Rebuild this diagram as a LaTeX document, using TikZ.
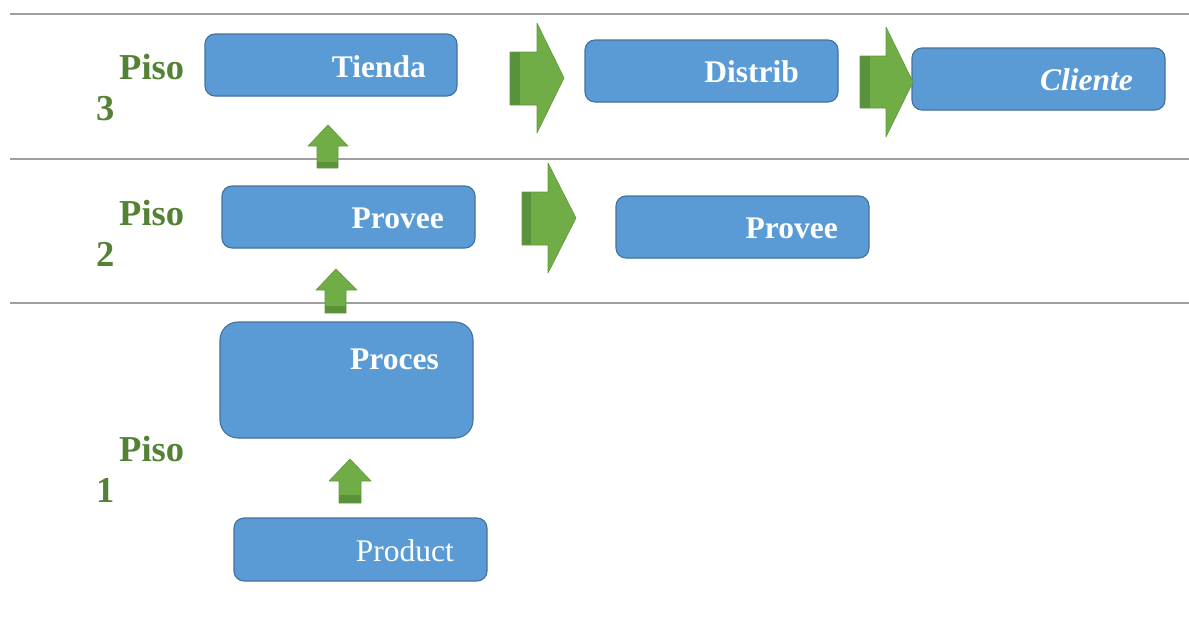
\documentclass[tikz,border=0pt]{standalone}
\usepackage{fontspec}
\setmainfont{Liberation Serif}
\definecolor{boxblue}{HTML}{5B9BD5}
\definecolor{boxedge}{HTML}{41719C}
\definecolor{arrowgreen}{HTML}{70AD47}
\definecolor{arrowedge}{HTML}{62983C}
\definecolor{arrowband}{HTML}{5A913B}
\definecolor{floorgreen}{HTML}{548235}
\definecolor{rulegray}{HTML}{A0A0A0}

% right block arrow: tail x, head base x, tip x, shaft top, shaft bottom,
% head top, head bottom, tip y, band right x
\newcommand\rightblock[9]{%
  \fill[arrowgreen] (#1,#4) -- (#2,#4) -- (#2,#6) -- (#3,#8) -- (#2,#7) -- (#2,#5) -- (#1,#5) -- cycle;
  \fill[arrowband] (#1,#4) rectangle (#9,#5);
  \draw[arrowedge, line width=0.6pt, line join=round] (#1,#4) -- (#2,#4) -- (#2,#6) -- (#3,#8) -- (#2,#7) -- (#2,#5) -- (#1,#5) -- cycle;
}
% up block arrow: tip x, tip y, head base y, head left, head right,
% shaft left, shaft right, bottom y, band top y
\newcommand\upblock[9]{%
  \fill[arrowgreen] (#1,#2) -- (#5,#3) -- (#7,#3) -- (#7,#8) -- (#6,#8) -- (#6,#3) -- (#4,#3) -- cycle;
  \fill[arrowband] (#6,#9) rectangle (#7,#8);
  \draw[arrowedge, line width=0.6pt, line join=round] (#1,#2) -- (#5,#3) -- (#7,#3) -- (#7,#8) -- (#6,#8) -- (#6,#3) -- (#4,#3) -- cycle;
}

\tikzset{
  panel/.style={draw=boxedge, line width=1.1pt, fill=boxblue, rounded corners=10pt,
    anchor=north west, inner sep=0pt, outer sep=0pt},
  boxtext/.style={text=white, font=\fontsize{31.5}{36}\selectfont\bfseries,
    anchor=base east, inner sep=0pt},
  floortext/.style={text=floorgreen, font=\fontsize{36.5}{40}\selectfont\bfseries,
    anchor=base west, inner sep=0pt},
  floorrule/.style={draw=rulegray, line width=1.8pt}
}

\begin{document}
\begin{tikzpicture}[x=1pt, y=-1pt]
\useasboundingbox (0,0) rectangle (1189,624);

% floor separators
\coordinate (r3a) at (10,14);   \coordinate (r3b) at (1189,14);
\coordinate (r2a) at (10,159);  \coordinate (r2b) at (1189,159);
\coordinate (r1a) at (10,303);  \coordinate (r1b) at (1189,303);
\draw[floorrule] (r3a) -- (r3b);
\draw[floorrule] (r2a) -- (r2b);
\draw[floorrule] (r1a) -- (r1b);

% floor labels
\node[floortext] (p3a) at (119,79) {Piso};
\node[floortext] (p3b) at (96,120) {3};
\node[floortext] (p2a) at (119,225) {Piso};
\node[floortext] (p2b) at (96,266) {2};
\node[floortext] (p1a) at (119,461) {Piso};
\node[floortext] (p1b) at (96,502) {1};

% boxes
\node[panel, minimum width=252pt, minimum height=62pt] (tienda) at (205,34) {};
\node[panel, minimum width=253pt, minimum height=62pt] (distrib) at (585,40) {};
\node[panel, minimum width=253pt, minimum height=62pt] (cliente) at (912,48) {};
\node[panel, minimum width=253pt, minimum height=62pt] (proveeA) at (222,186) {};
\node[panel, minimum width=253pt, minimum height=62pt] (proveeB) at (616,196) {};
\node[panel, minimum width=253pt, minimum height=116pt, rounded corners=18pt] (proces) at (220,322) {};
\node[panel, minimum width=253pt, minimum height=63pt] (product) at (234,518) {};

% box texts
\node[boxtext] (tiendaT) at (426,77) {Tienda};
\node[boxtext] (distribT) at (799,82) {Distrib};
\node[boxtext] (clienteT) at (1133,90) {\itshape Cliente};
\node[boxtext] (proveeAT) at (444,228) {Provee};
\node[boxtext] (proveeBT) at (838,238) {Provee};
\node[boxtext] (procesT) at (439,369) {Proces};
\node[boxtext, font=\fontsize{31.5}{36}\selectfont] (productT) at (454,561) {Product};

% horizontal block arrows
\rightblock{510}{537}{564}{52}{105}{23}{133}{78}{520}
\rightblock{860}{886}{913}{56}{108}{27}{137}{82}{870}
\rightblock{522}{548}{576}{192}{245}{163}{273}{218}{531}

% vertical block arrows
\upblock{328}{125}{146}{308}{348}{317}{338}{168}{162}
\upblock{336}{269}{290}{316}{357}{325}{346}{313}{306}
\upblock{350}{459}{481}{329}{371}{339}{361}{503}{495}
\end{tikzpicture}
\end{document}
